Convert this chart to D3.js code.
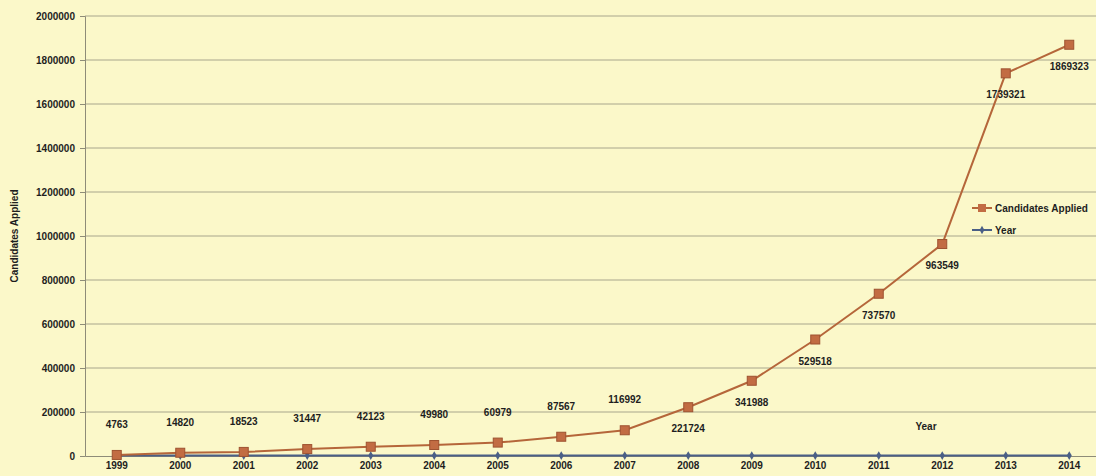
<!DOCTYPE html>
<html><head><meta charset="utf-8">
<script src="https://cdn.jsdelivr.net/npm/d3@7"></script>
<style>
html,body{margin:0;padding:0;background:#fbf8c9;}
svg{display:block;}
text{font-family:"Liberation Sans",Arial,sans-serif;font-weight:bold;fill:#1e1e1e;}
</style></head>
<body><svg id="c" width="1096" height="476"></svg>
<script>
const years = ["1999","2000","2001","2002","2003","2004","2005","2006","2007","2008","2009","2010","2011","2012","2013","2014"];
const candidatesApplied = [4763,14820,18523,31447,42123,49980,60979,87567,116992,221724,341988,529518,737570,963549,1739321,1869323];
const yearValues = [1999,2000,2001,2002,2003,2004,2005,2006,2007,2008,2009,2010,2011,2012,2013,2014];
const yTicks = [0,200000,400000,600000,800000,1000000,1200000,1400000,1600000,1800000,2000000];
const seriesNames = ["Candidates Applied","Year"];

const svg = d3.select("#c");
const W = 1096, H = 476;
const m = {left:85, top:16, bottom:20};
const plotBottom = 456;
const x = d3.scaleBand().domain(years).range([m.left, m.left + 63.5*years.length]);
const y = d3.scaleLinear().domain([0,2000000]).range([plotBottom, m.top]);
const cx = d => x(d) + x.bandwidth()/2;

// gridlines
svg.append("g").selectAll("line").data(yTicks.slice(1)).join("line")
  .attr("x1", m.left).attr("x2", W).attr("y1", d=>y(d)).attr("y2", d=>y(d))
  .attr("stroke","#a8a68c").attr("stroke-width",1);

// y axis
const yAxis = svg.append("g").attr("transform",`translate(${m.left},0)`)
  .call(d3.axisLeft(y).tickValues(yTicks).tickSize(5).tickPadding(5).tickFormat(d3.format("d")));
yAxis.select(".domain").attr("stroke","#8e8c78");
yAxis.selectAll(".tick line").attr("stroke","#8e8c78");
yAxis.selectAll("text").attr("font-size","10px").style("font-family","Liberation Sans, Arial").style("font-weight","bold").attr("fill","#2a2a2a");

// x axis
const xAxis = svg.append("g").attr("transform",`translate(0,${plotBottom})`)
  .call(d3.axisBottom(x).tickSize(0).tickPadding(6));
xAxis.select(".domain").attr("stroke","#8e8c78");
xAxis.selectAll("text").attr("font-size","10px").style("font-family","Liberation Sans, Arial").style("font-weight","bold").attr("fill","#2a2a2a");

// axis titles
svg.append("text").attr("transform",`translate(18,${(plotBottom+m.top)/2}) rotate(-90)`)
  .attr("text-anchor","middle").attr("font-size","10px").text("Candidates Applied");
svg.append("text").attr("x",926).attr("y",430).attr("text-anchor","middle").attr("font-size","10px").text("Year");

// Year series
const lineYear = d3.line().x((d,i)=>cx(years[i])).y(d=>y(d));
svg.append("path").datum(yearValues).attr("d",lineYear).attr("fill","none")
  .attr("stroke","#4a5f86").attr("stroke-width",2);
svg.append("g").selectAll("path").data(yearValues).join("path")
  .attr("d", d3.symbol(d3.symbolDiamond, 22)())
  .attr("transform",(d,i)=>`translate(${cx(years[i])},${y(d)})`)
  .attr("fill","#4a5f86");

// Candidates series
const lineC = d3.line().x((d,i)=>cx(years[i])).y(d=>y(d));
svg.append("path").datum(candidatesApplied).attr("d",lineC).attr("fill","none")
  .attr("stroke","#b5663a").attr("stroke-width",2);
svg.append("g").selectAll("rect").data(candidatesApplied).join("rect")
  .attr("x",(d,i)=>cx(years[i])-4.5).attr("y",d=>y(d)-4.5)
  .attr("width",9).attr("height",9)
  .attr("fill","#c26c43").attr("stroke","#9e5230").attr("stroke-width",1);

// data labels
svg.append("g").selectAll("text").data(candidatesApplied).join("text")
  .attr("x",(d,i)=>cx(years[i]))
  .attr("y",(d,i)=> i < 9 ? y(d) - 27 : y(d) + 25)
  .attr("text-anchor","middle").attr("font-size","10px")
  .text(d=>d);

// legend
const lg = svg.append("g").attr("transform","translate(972,208)");
const colors = ["#b5663a","#4a5f86"];
seriesNames.forEach((n,i)=>{
  const g = lg.append("g").attr("transform",`translate(0,${i*22})`);
  g.append("line").attr("x1",0).attr("x2",20).attr("stroke",colors[i]).attr("stroke-width",2);
  if(i===0) g.append("rect").attr("x",6).attr("y",-4).attr("width",8).attr("height",8).attr("fill","#c26c43");
  else g.append("path").attr("d",d3.symbol(d3.symbolDiamond,20)()).attr("transform","translate(10,0)").attr("fill",colors[i]);
  g.append("text").attr("x",23).attr("y",3.5).attr("font-size","10px").text(n);
});
</script></body></html>
